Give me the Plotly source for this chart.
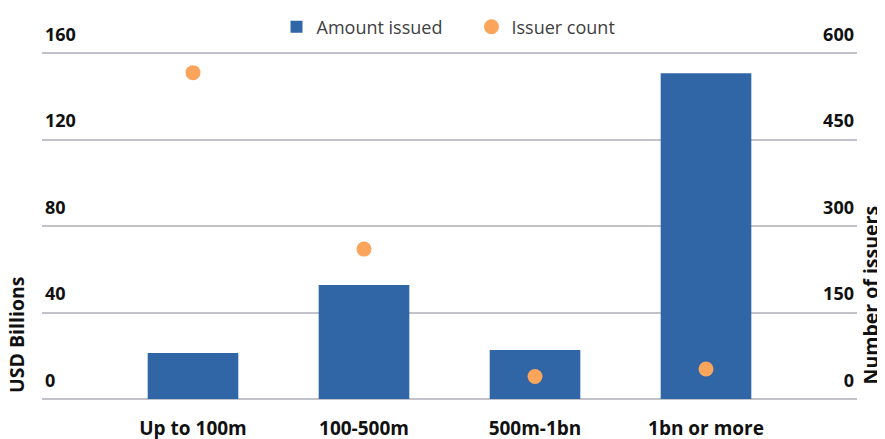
import plotly.graph_objects as go

categories = ["Up to 100m", "100-500m", "500m-1bn", "1bn or more"]
amount_issued = [21.3, 52.7, 22.7, 150.7]
issuer_count = [566, 260, 39, 52]
left_ticks = [0, 40, 80, 120, 160]
right_ticks = [0, 150, 300, 450, 600]

BLUE = "#3066A6"
ORANGE = "#FBA55C"
FONT = "Open Sans"
GRID = "#C2C2CA"

fig = go.Figure()
fig.add_trace(go.Bar(
    x=categories, y=amount_issued, name="Amount issued",
    marker=dict(color=BLUE, line=dict(width=0)), width=0.53,
    yaxis="y",
))
fig.add_trace(go.Scatter(
    x=categories, y=issuer_count, name="Issuer count", mode="markers",
    marker=dict(color=ORANGE, size=15, line=dict(width=0)),
    yaxis="y2",
))

tickfont = dict(family=FONT, size=18, color="#111111", weight="bold")
catfont = dict(family=FONT, size=19, color="#111111", weight="bold")
titlefont = dict(family=FONT, size=19.5, color="#111111", weight="bold")

# page body has an 8px default margin, so the figure is 8px smaller
fig.update_layout(
    width=877, height=431,
    margin=dict(l=34, r=28, t=10, b=40, autoexpand=False),
    paper_bgcolor="white", plot_bgcolor="white",
    font=dict(family=FONT),
    showlegend=True,
    legend=dict(
        orientation="h", x=0.527, xanchor="center", y=0.9764, yanchor="middle",
        font=dict(family=FONT, size=18, color="#404040"),
        entrywidth=150, entrywidthmode="pixels",
        itemwidth=30, tracegroupgap=0, bgcolor="rgba(0,0,0,0)",
    ),
    xaxis=dict(
        type="category", range=[-0.883, 3.883], automargin=False,
        showgrid=False, zeroline=False, showline=False,
        ticks="", ticklabelstandoff=16,
        tickfont=catfont,
    ),
    yaxis=dict(
        range=[0, 176.2], tickvals=left_ticks, ticktext=[str(v) for v in left_ticks],
        automargin=False,
        showgrid=True, gridcolor=GRID, gridwidth=1.5,
        zeroline=True, zerolinecolor=GRID, zerolinewidth=1.5, showline=False, ticks="",
        ticklabelposition="inside top", ticklabelshift=-6, tickfont=tickfont,
    ),
    yaxis2=dict(
        range=[0, 660.75], tickvals=right_ticks, ticktext=[str(v) for v in right_ticks],
        automargin=False,
        overlaying="y", side="right", showgrid=False, zeroline=False, showline=False,
        ticks="", ticklabelposition="inside top", ticklabelshift=-6, tickfont=tickfont,
    ),
    annotations=[
        dict(text="USD Billions", xref="paper", yref="paper", x=-0.0307, y=0.0105,
             xanchor="center", yanchor="bottom", textangle=-90, showarrow=False,
             font=titlefont),
        dict(text="Number of issuers", xref="paper", yref="paper", x=1.017, y=0.034,
             xanchor="center", yanchor="bottom", textangle=-90, showarrow=False,
             font=titlefont),
    ],
)

fig.write_html("out.html")
